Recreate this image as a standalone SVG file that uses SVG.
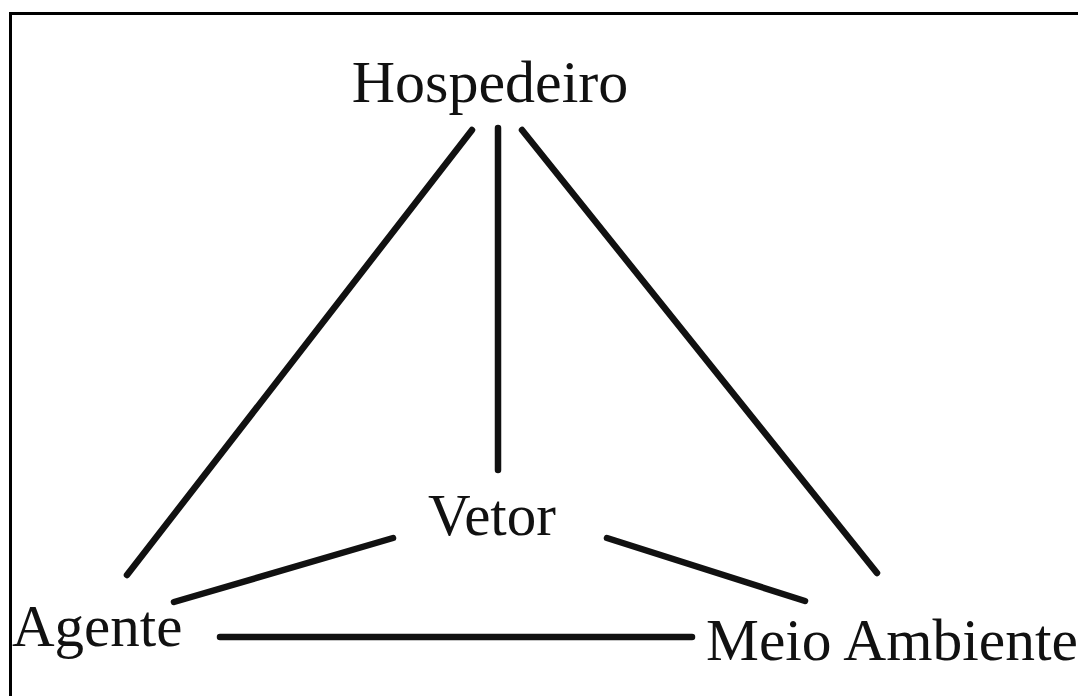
<svg xmlns="http://www.w3.org/2000/svg" width="1078" height="696" viewBox="0 0 1078 696">
  <style>
    .lbl { font-family: "Liberation Serif", "Times New Roman", serif; fill: #111; }
    .edge { stroke: #111; stroke-width: 6.5; stroke-linecap: round; fill: none; }
  </style>
  <rect x="0" y="0" width="1078" height="696" fill="#ffffff"/>
  <path d="M10.5 700 V13.5 H1082" fill="none" stroke="#000" stroke-width="3"/>
  <g id="connectors">
    <line class="edge" x1="472" y1="130" x2="127" y2="575"/>
    <line class="edge" x1="498" y1="128" x2="498" y2="470"/>
    <line class="edge" x1="522" y1="130" x2="877" y2="573"/>
    <line class="edge" x1="393" y1="538" x2="174" y2="602"/>
    <line class="edge" x1="607" y1="538" x2="805" y2="601"/>
    <line class="edge" x1="220" y1="637" x2="692" y2="637"/>
  </g>
  <g id="hospedeiro"><text class="lbl" x="490" y="102" font-size="60" text-anchor="middle">Hospedeiro</text></g>
  <g id="vetor"><text class="lbl" x="492" y="535" font-size="59" text-anchor="middle">Vetor</text></g>
  <g id="agente"><text class="lbl" x="12" y="646" font-size="59">Agente</text></g>
  <g id="meio-ambiente"><text class="lbl" x="706" y="660" font-size="59.5">Meio Ambiente</text></g>
</svg>
